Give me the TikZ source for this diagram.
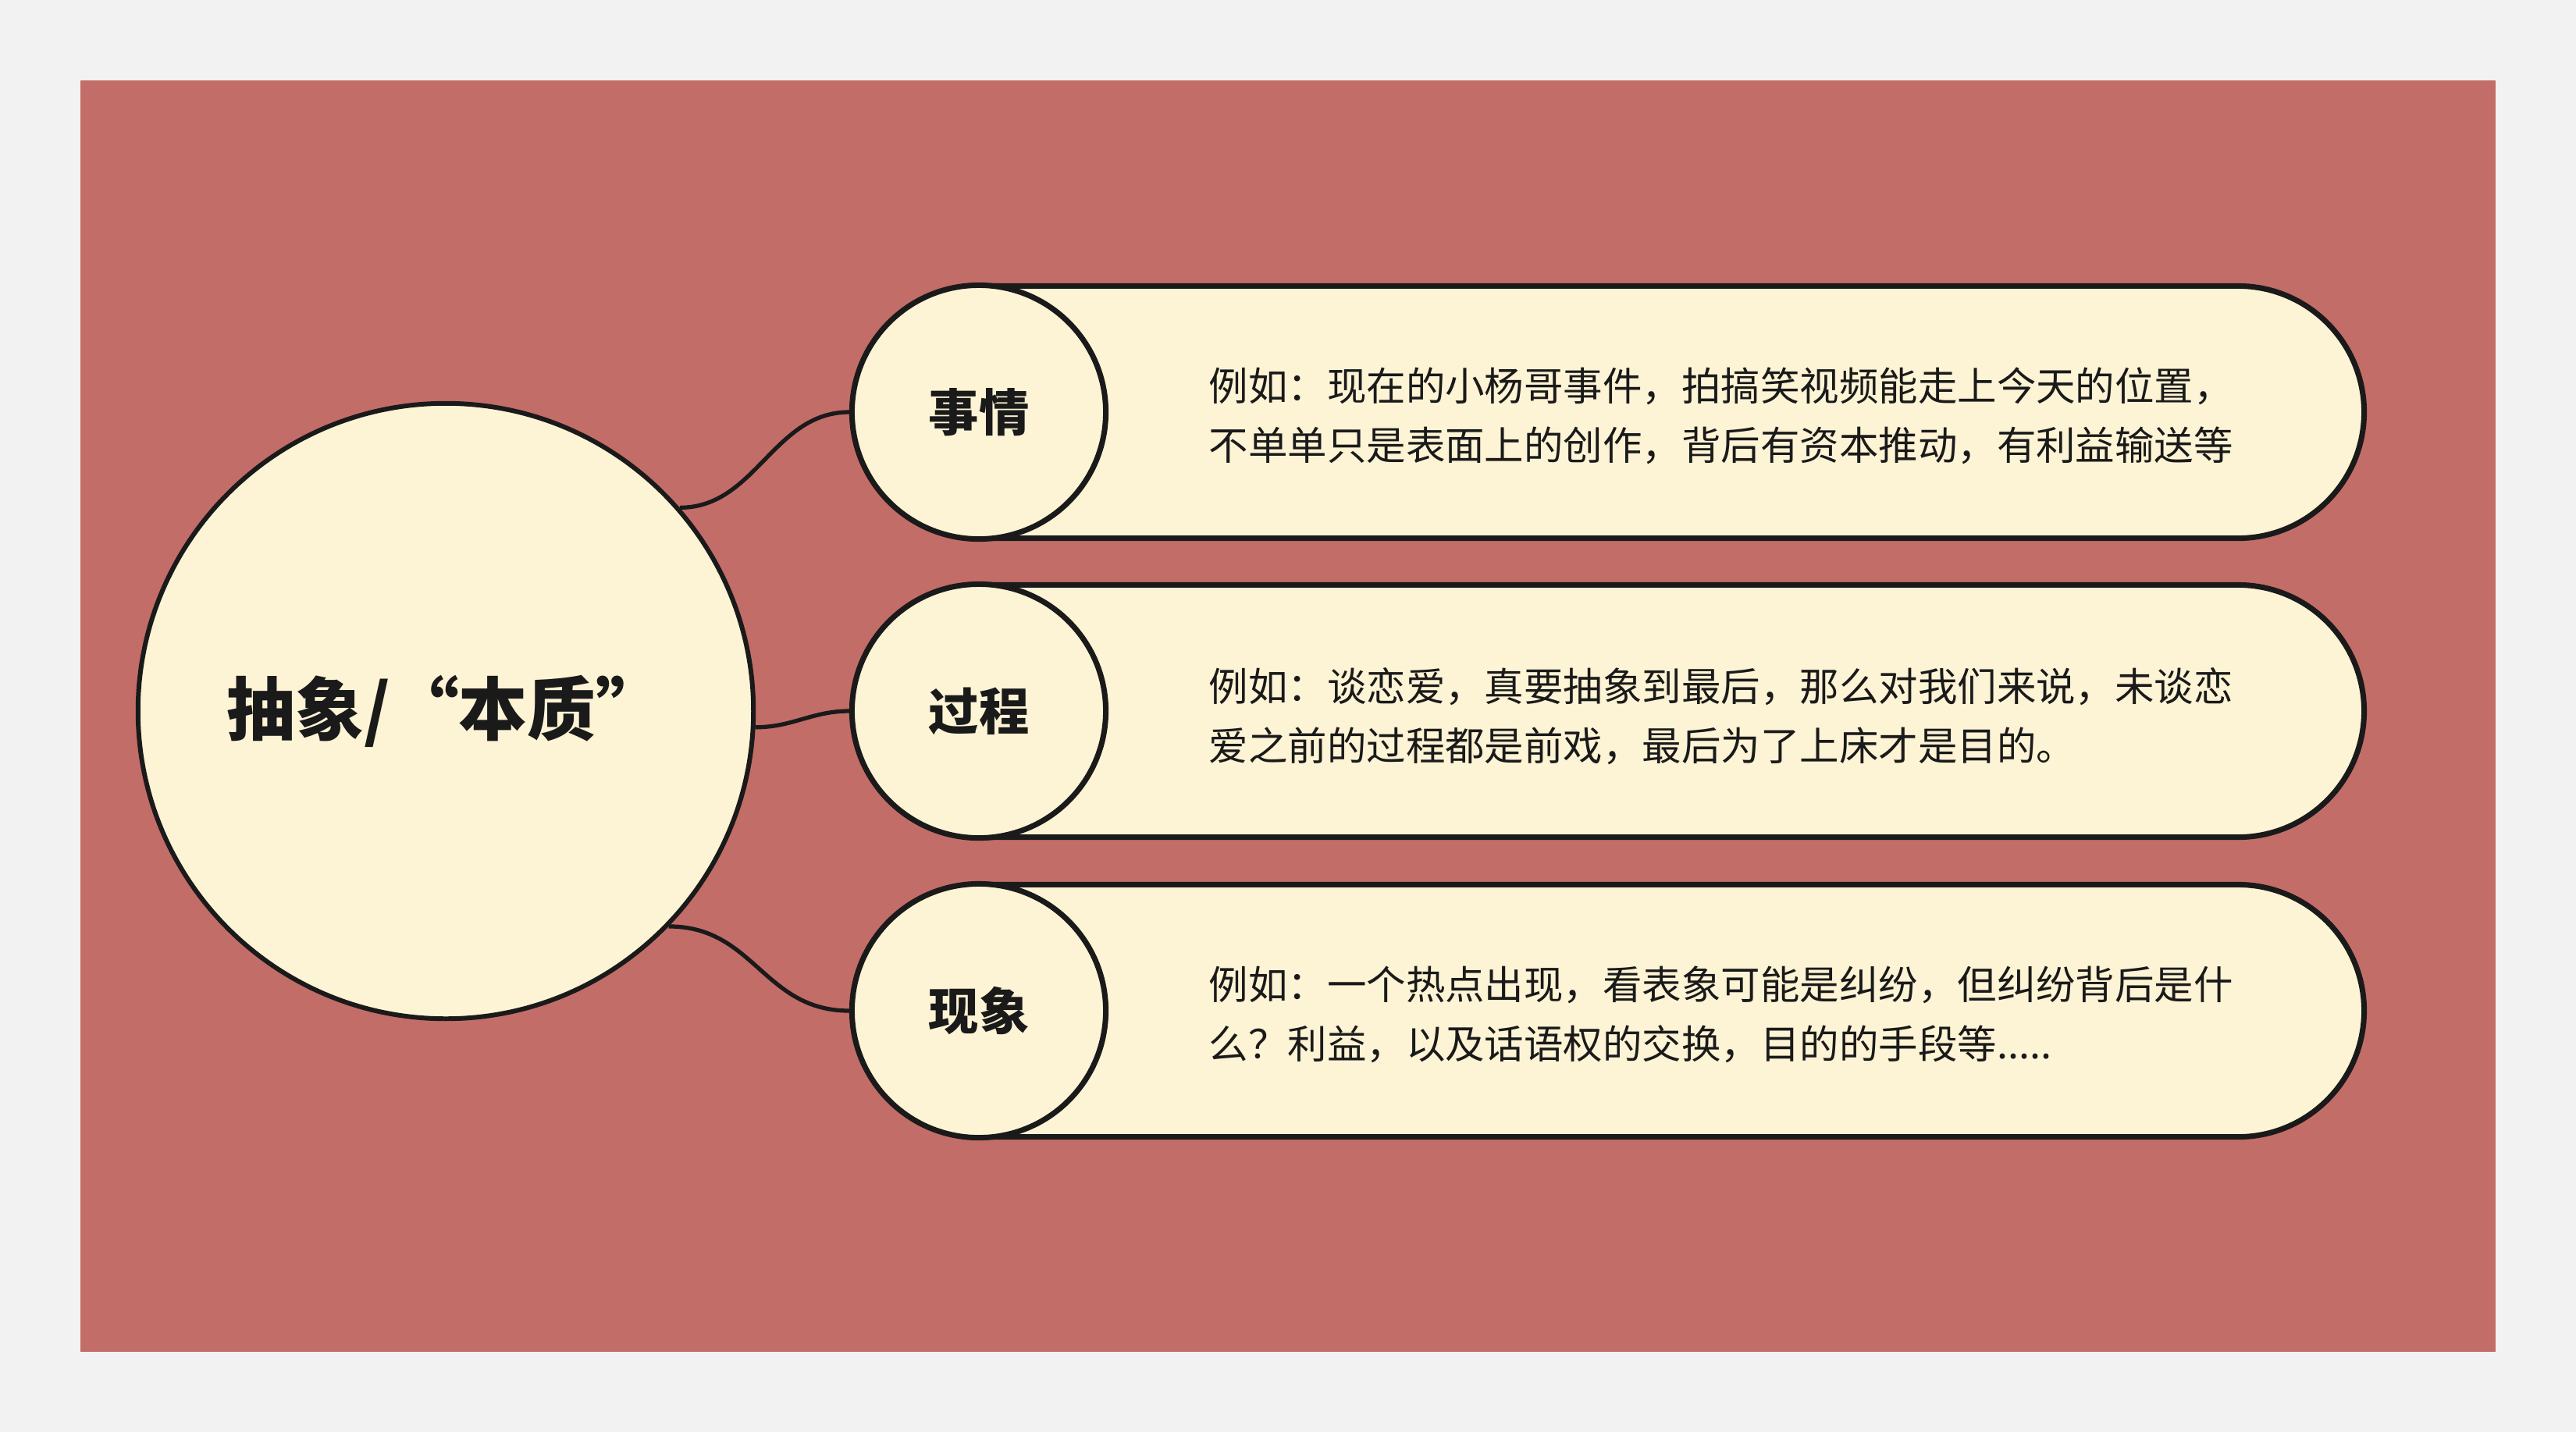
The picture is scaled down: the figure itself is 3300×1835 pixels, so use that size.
\documentclass[tikz,border=0pt]{standalone}
\usepackage{fontspec}
\setmainfont{Noto Sans CJK SC}
\usetikzlibrary{shapes.misc}
\definecolor{bgout}{HTML}{F2F2F2}
\definecolor{bgred}{HTML}{C26D68}
\definecolor{cream}{HTML}{FDF3D5}
\definecolor{ink}{HTML}{1A1A1A}
\begin{document}
\begin{tikzpicture}[x=0.01cm,y=-0.01cm,
  conn/.style={line width=1.5pt, draw=ink},
  pill/.style={rounded rectangle, draw=ink, fill=cream, line width=2pt,
    minimum width=19.34cm, minimum height=3.23cm, inner sep=0pt},
  lab/.style={circle, draw=ink, fill=cream, line width=2pt, minimum size=3.25cm,
    inner sep=0pt, font=\bfseries\fontsize{18.3}{22}\selectfont, text=ink},
  body/.style={anchor=west, align=left, inner sep=0pt,
    font=\fontsize{14.35}{21.6}\selectfont, text=ink}]
\fill[bgout] (0,0) rectangle (3300,1835);
\fill[bgred] (103,103) rectangle (3197,1732);
\useasboundingbox (0,0) rectangle (3300,1835);

\node[circle, draw=ink, fill=cream, line width=1.7pt, minimum size=7.88cm, inner sep=0pt,
  font=\bfseries\fontsize{25}{30}\selectfont, text=ink] (main) at (571,911)
  {抽象/{\addfontfeatures{CharacterWidth=Full}“本质”}};

\node[pill] (p1) at (2061,528) {};
\node[pill] (p2) at (2061,911) {};
\node[pill] (p3) at (2061,1295) {};

\node[lab] (c1) at (1254,528) {事情};
\node[lab] (c2) at (1254,911) {过程};
\node[lab] (c3) at (1254,1295) {现象};

\node[body] (t1) at (1548,533) {例如：现在的小杨哥事件，拍搞笑视频能走上今天的位置，\\不单单只是表面上的创作，背后有资本推动，有利益输送等};
\node[body] (t2) at (1548,918) {例如：谈恋爱，真要抽象到最后，那么对我们来说，未谈恋\\爱之前的过程都是前戏，最后为了上床才是目的。};
\node[body] (t3) at (1548,1300) {例如：一个热点出现，看表象可能是纠纷，但纠纷背后是什\\么？利益，以及话语权的交换，目的的手段等.....};

\draw[conn] (main.41) to[out=0,in=180] (c1.west);
\draw[conn] (main.-3) to[out=0,in=180] (c2.west);
\draw[conn] (main.-44) to[out=0,in=180,looseness=1.1] (c3.west);
\end{tikzpicture}
\end{document}
